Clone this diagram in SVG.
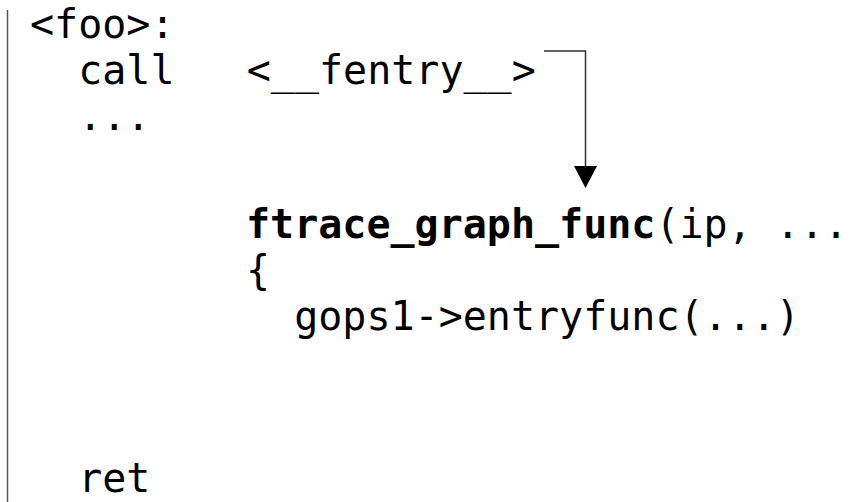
<svg xmlns="http://www.w3.org/2000/svg" width="855" height="502" viewBox="0 0 855 502">
  <style>
    .code { font-family: "DejaVu Sans Mono", "Liberation Mono", monospace; font-size: 40px; fill: #000; white-space: pre; }
    .bold { font-weight: bold; }
    .wire { fill: none; stroke: #333; stroke-width: 1.5; }
  </style>
  <rect width="855" height="502" fill="#fff"/>

  <!-- left margin rule -->
  <line x1="7.5" y1="10" x2="7.5" y2="502" stroke="#555" stroke-width="1.5"/>

  <g id="foo">
    <text class="code" x="30" y="38">&lt;foo&gt;:</text>
    <text class="code" x="30" y="84">  call   &lt;__fentry__&gt;</text>
    <text class="code" x="30" y="130">  ...</text>
    <text class="code" x="30" y="492">  ret</text>
  </g>

  <g id="ftrace_graph_func">
    <text class="code" x="246" y="238"><tspan class="bold">ftrace_graph_func</tspan>(ip, ...</text>
    <text class="code" x="246" y="284">{</text>
    <text class="code" x="246" y="330">  gops1-&gt;entryfunc(...)</text>
  </g>

  <g id="connectors">
    <path class="wire" d="M544,51 H585.5 V166"/>
    <path d="M574,166 L597,166 L585.5,188 Z" fill="#000"/>
  </g>
</svg>
